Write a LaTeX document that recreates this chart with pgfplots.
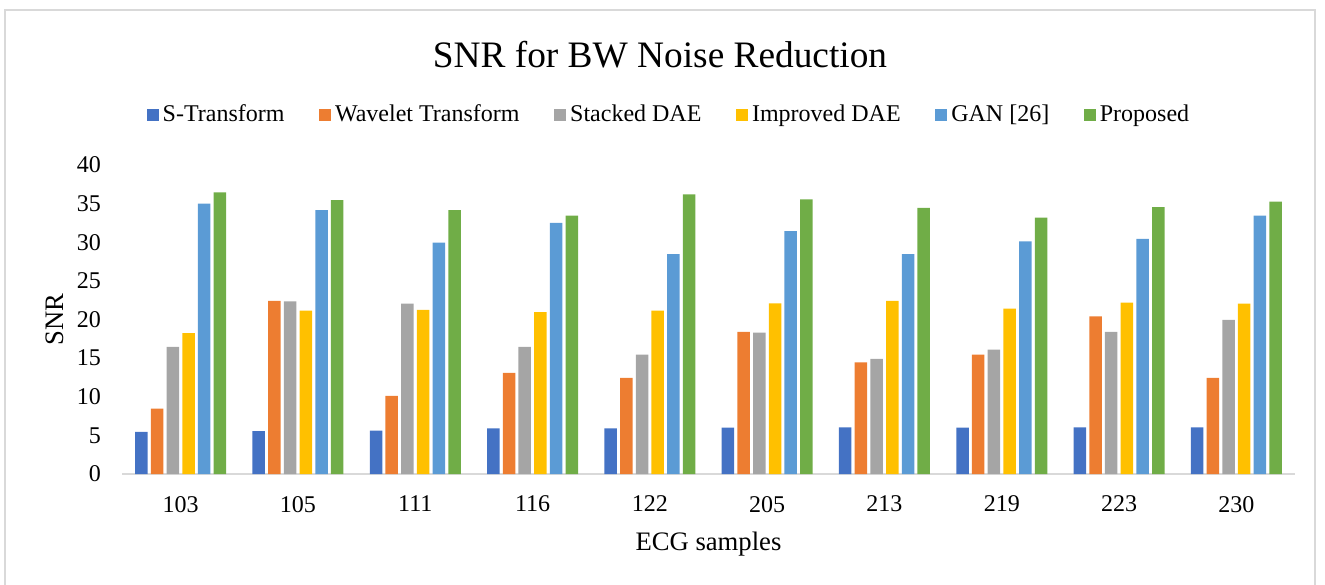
\documentclass[border=0pt]{standalone}
\usepackage{pgfplots}
\pgfplotsset{compat=1.18}
\usepackage{pgfplotstable}
\usepackage{fontspec}
\setmainfont{Liberation Serif}
\definecolor{cS}{HTML}{4472C4}
\definecolor{cW}{HTML}{ED7D31}
\definecolor{cSt}{HTML}{A5A5A5}
\definecolor{cI}{HTML}{FFC000}
\definecolor{cG}{HTML}{5B9BD5}
\definecolor{cP}{HTML}{70AD47}
\definecolor{brd}{HTML}{D9D9D9}
\pgfplotstableread{
x S W St I G P
0 5.45 8.45 16.45 18.25 35.0 36.45
1 5.55 22.4 22.35 21.15 34.15 35.45
2 5.6 10.1 22.05 21.25 29.95 34.15
3 5.9 13.1 16.45 20.95 32.5 33.45
4 5.9 12.45 15.45 21.15 28.45 36.2
5 6.0 18.4 18.3 22.1 31.45 35.55
6 6.05 14.45 14.9 22.4 28.45 34.45
7 6.0 15.45 16.1 21.4 30.1 33.2
8 6.05 20.4 18.4 22.2 30.45 34.55
9 6.05 12.45 19.95 22.05 33.45 35.25
}\datatable
\begin{document}
\begin{tikzpicture}
\useasboundingbox (-61pt,-55pt) rectangle (601.5pt,237pt);
\draw[brd, line width=1pt] (-58.5pt,-60pt) -- (-58.5pt,232pt) -- (596.5pt,232pt) -- (596.5pt,-60pt);
\begin{axis}[
  at={(0pt,0pt)}, anchor=south west,
  scale only axis,
  width=586.5pt, height=154.5pt,
  ybar=1.6pt, bar width=6.25pt,
  xmin=-0.5, xmax=9.5, ymin=0, ymax=40,
  xtick=data,
  xticklabels={103,105,111,116,122,205,213,219,223,230},
  ytick={0,5,...,40},
  axis x line*=bottom, axis y line*=left,
  y axis line style={draw=none},
  x axis line style={draw=brd, line width=1pt},
  xtick style={draw=none}, ytick style={draw=none},
  major tick length=0pt,
  /pgf/number format/assume math mode=true,
  ticklabel style={font=\fontsize{12}{14}\selectfont},
  yticklabel style={xshift=-7pt},
  xticklabel style={yshift=-7.5pt},
  xlabel={ECG samples}, ylabel={SNR},
  every axis x label/.style={at={(axis description cs:0.5,0)}, anchor=center, yshift=-35pt, font=\fontsize{13.33}{16}\selectfont},
  every axis y label/.style={at={(axis description cs:0,0.5)}, anchor=center, xshift=-33.5pt, rotate=90, font=\fontsize{13.33}{16}\selectfont},
  title={SNR for BW Noise Reduction},
  every axis title shift=0pt,
  title style={at={(axis description cs:0.4587,1.356)}, anchor=center, font=\fontsize{18.67}{22}\selectfont},
  legend columns=6,
  legend style={at={(axis description cs:0.4663,1.162)}, anchor=center, draw=none, fill=none,
    font=\fontsize{12}{14}\selectfont, nodes={inner xsep=1pt, inner ysep=1pt},
    /tikz/every odd column/.append style={column sep=1pt},
    /tikz/every even column/.append style={column sep=16.3pt}},
  every axis plot/.append style={draw=none, legend image code/.code={\fill[##1] (0pt,-3pt) rectangle (6pt,3pt);}},
  clip=false,
]
\addplot[fill=cS] table[x=x,y=S] {\datatable};
\addplot[fill=cW] table[x=x,y=W] {\datatable};
\addplot[fill=cSt] table[x=x,y=St] {\datatable};
\addplot[fill=cI] table[x=x,y=I] {\datatable};
\addplot[fill=cG] table[x=x,y=G] {\datatable};
\addplot[fill=cP] table[x=x,y=P] {\datatable};
\legend{S-Transform, Wavelet Transform, Stacked DAE, Improved DAE, GAN [26], Proposed}
\end{axis}
\end{tikzpicture}
\end{document}
